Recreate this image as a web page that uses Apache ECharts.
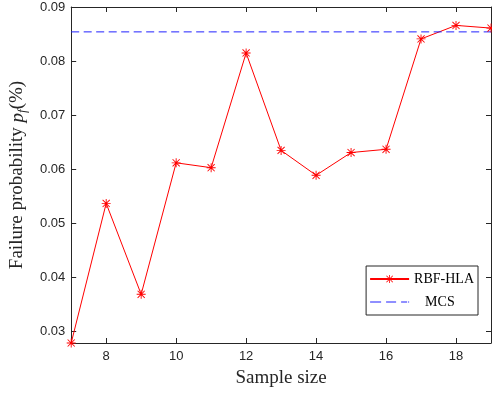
<!DOCTYPE html>
<html>
<head>
<meta charset="utf-8">
<script src="https://cdn.jsdelivr.net/npm/echarts@6/dist/echarts.min.js"></script>
<style>html,body{margin:0;padding:0;background:#fff;}#c{width:492px;height:394px;}</style>
</head>
<body>
<div id="c"></div>
<script>
const sampleSizes = [7, 8, 9, 10, 11, 12, 13, 14, 15, 16, 17, 18, 19];
const rbfHla = [0.0279, 0.0537, 0.0369, 0.0612, 0.0603, 0.0815, 0.0635, 0.0589, 0.0631, 0.0637, 0.0841, 0.0866, 0.0861];
const mcsValue = 0.0854;
const xTicks = [8, 10, 12, 14, 16, 18];
const yTicks = [0.03, 0.04, 0.05, 0.06, 0.07, 0.08, 0.09];
const xRange = [7, 19];
const yRange = [0.0279, 0.09];

const asterisk = 'path://M4.5 0L5.5 0L5.5 10L4.5 10Z M0 4.5L10 4.5L10 5.5L0 5.5Z M0.7 1.4L1.4 0.7L9.3 8.6L8.6 9.3Z M8.6 0.7L9.3 1.4L1.4 9.3L0.7 8.6Z';
const dashIcon = 'path://M0 0h11v1H0z M16 0h10v1H16z M31 0h6v1H31z M38 0h1v1H38z';
const axisColor = '#262626';
const mcsColor = '#2020ff';
const tickFont = { fontFamily: 'Liberation Sans', fontSize: 13, color: '#262626' };

const chart = echarts.init(document.getElementById('c'), null, { renderer: 'canvas' });
chart.setOption({
  backgroundColor: '#fff',
  animation: false,
  grid: { left: 70, right: 1, top: 7, bottom: 51 },
  xAxis: [{
    type: 'value', min: xRange[0], max: xRange[1], position: 'bottom',
    name: 'Sample size', nameLocation: 'middle', nameGap: 26,
    nameTextStyle: { fontFamily: 'Liberation Serif', fontSize: 19, color: '#262626' },
    axisLine: { show: true, lineStyle: { color: axisColor, width: 1 } },
    axisTick: { show: true, inside: true, length: 5, customValues: xTicks, lineStyle: { color: axisColor } },
    axisLabel: { ...tickFont, margin: 7, customValues: xTicks },
    splitLine: { show: false }
  }, {
    type: 'value', min: xRange[0], max: xRange[1], position: 'top',
    axisLine: { show: true, lineStyle: { color: axisColor, width: 1 } },
    axisTick: { show: true, inside: true, length: 5, customValues: xTicks, lineStyle: { color: axisColor } },
    axisLabel: { show: false },
    splitLine: { show: false }
  }],
  yAxis: [{
    type: 'value', min: yRange[0], max: yRange[1], position: 'left',
    name: '{a|Failure probability }{i|p}{s|f}{a|(%)}',
    nameLocation: 'middle', nameGap: 42, nameRotate: 90,
    nameTextStyle: {
      fontFamily: 'Liberation Serif', fontSize: 19, color: '#262626',
      rich: {
        a: { fontFamily: 'Liberation Serif', fontSize: 19, color: '#262626' },
        i: { fontFamily: 'Liberation Serif', fontSize: 19, fontStyle: 'italic', color: '#262626' },
        s: { fontFamily: 'Liberation Serif', fontSize: 13, fontStyle: 'italic', color: '#262626', padding: [10, 0, 0, 0] }
      }
    },
    axisLine: { show: true, lineStyle: { color: axisColor, width: 1 } },
    axisTick: { show: true, inside: true, length: 5, customValues: yTicks, lineStyle: { color: axisColor } },
    axisLabel: { ...tickFont, margin: 6, customValues: yTicks, formatter: v => v.toFixed(2) },
    splitLine: { show: false }
  }, {
    type: 'value', min: yRange[0], max: yRange[1], position: 'right',
    axisLine: { show: true, lineStyle: { color: axisColor, width: 1 } },
    axisTick: { show: true, inside: true, length: 5, customValues: yTicks, lineStyle: { color: axisColor } },
    axisLabel: { show: false },
    splitLine: { show: false }
  }],
  legend: {
    orient: 'vertical', right: 14, top: 266,
    padding: [6, 4, 6, 3],
    backgroundColor: '#fff', borderColor: '#262626', borderWidth: 1,
    itemWidth: 39, itemHeight: 10, itemGap: 9,
    textStyle: { fontFamily: 'Liberation Serif', fontSize: 14, color: '#000', lineHeight: 14,
      rich: { m: { fontFamily: 'Liberation Serif', fontSize: 14, color: '#000', lineHeight: 14, padding: [0, 0, 0, 11] } } },
    formatter: name => name === 'MCS' ? '{m|MCS}' : name,
    data: [{ name: 'RBF-HLA' }, { name: 'MCS', icon: dashIcon, itemStyle: { color: mcsColor } }]
  },
  series: [{
    name: 'RBF-HLA', type: 'line',
    data: sampleSizes.map((x, i) => [x, rbfHla[i]]),
    symbol: asterisk, symbolSize: 9, showAllSymbol: true, clip: false,
    lineStyle: { color: '#ff0000', width: 1 },
    itemStyle: { color: '#ff0000' }
  }, {
    name: 'MCS', type: 'line',
    data: [[xRange[0], mcsValue], [xRange[1], mcsValue]],
    symbol: 'none',
    lineStyle: { color: mcsColor, width: 1, type: [8, 4.5] },
    itemStyle: { color: mcsColor }
  }]
});
</script>
</body>
</html>
